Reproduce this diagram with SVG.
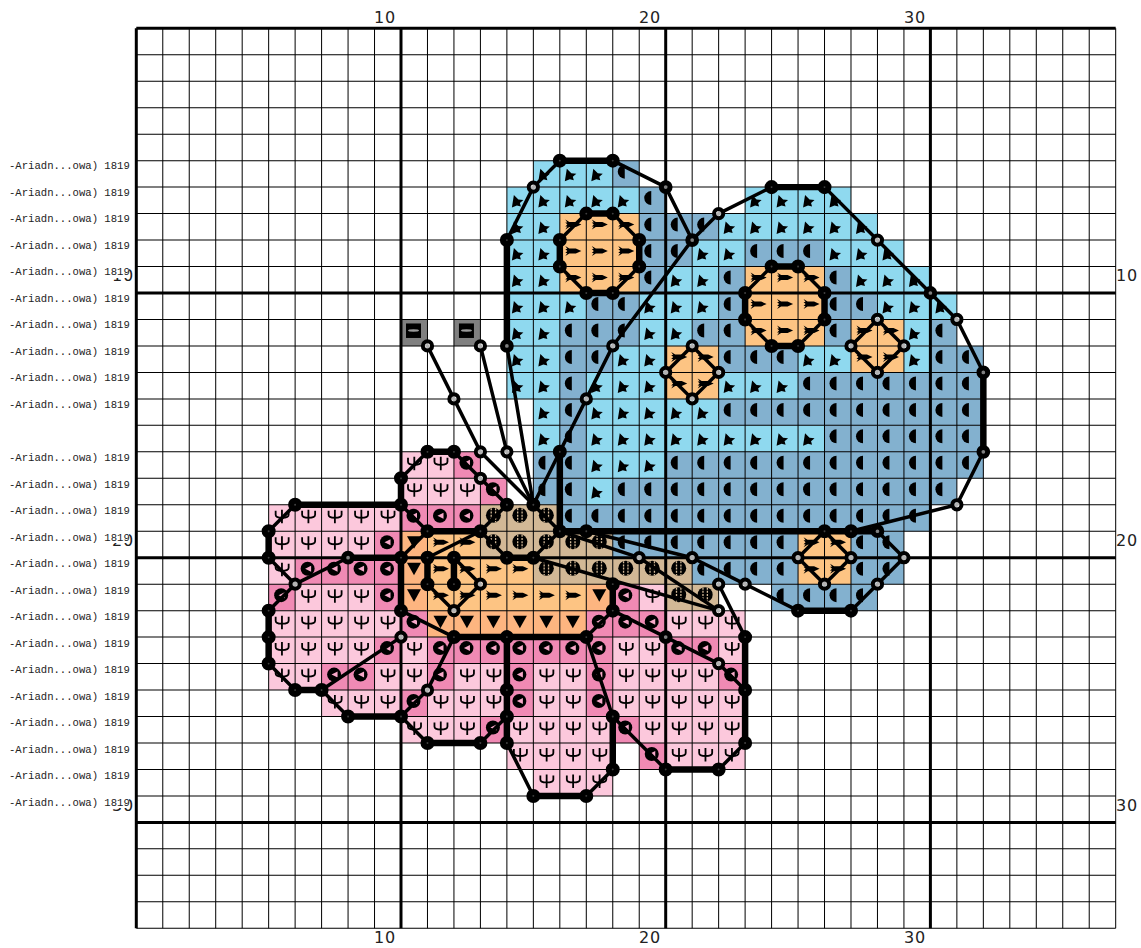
<svg xmlns="http://www.w3.org/2000/svg" width="1141" height="948" viewBox="0 0 1141 948">
<style>
.ax{font-family:"DejaVu Sans",sans-serif;font-size:16px;fill:#222;letter-spacing:.8px}
.lb{font-family:"Liberation Mono",monospace;font-size:10.6px;fill:#222}
.gl{fill:none;stroke:#000;stroke-width:.0378}
.gt{fill:none;stroke:#000;stroke-width:.113}
.th{fill:none;stroke:#000;stroke-width:.132;stroke-linejoin:round;stroke-linecap:round}
.tk{fill:none;stroke:#000;stroke-width:.245;stroke-linecap:round}
</style>
<defs>
<g id="L" transform="scale(.03778)"><rect width="26.47" height="26.47" fill="#8fd9ef"/><path d="M5 20.5L7 8L11.5 12.5L16.5 13L13 16L14 19.5L10 18.5Z"/></g>
<g id="D" transform="scale(.03778)"><rect width="26.47" height="26.47" fill="#83b1cf"/><path d="M12 4A7 7 0 0 0 12 18Z"/></g>
<g id="O" transform="scale(.03778)"><rect width="26.47" height="26.47" fill="#fdc483"/><path d="M5.5 6L9.5 8.5L16 8.5L21.5 11L16 13.5L9.5 13.5L5.5 16L7.5 13L5.5 13L7.5 11L5.5 9L7.5 9Z"/></g>
<g id="T" transform="scale(.03778)"><rect width="26.47" height="26.47" fill="#fdb580"/><path d="M6 5H20L13 17.5Z"/></g>
<g id="B" transform="scale(.03778)"><rect width="26.47" height="26.47" fill="#d2b896"/><circle cx="13" cy="10.5" r="7.5"/><path d="M10.8 3.5V17.5M15.2 3.5V17.5" stroke="#d2b896" stroke-width="1.3" stroke-dasharray="2 1.2"/></g>
<g id="P" transform="scale(.03778)"><rect width="26.47" height="26.47" fill="#fcc8dc"/><path d="M13.3 5V18.5M7 6V10Q7 13 13.3 13Q20 13 20 10V6" fill="none" stroke="#000" stroke-width="1.8"/></g>
<g id="M" transform="scale(.03778)"><rect width="26.47" height="26.47" fill="#f08ab4"/><circle cx="12.5" cy="11" r="7"/><path d="M10 11L16 8V14Z" fill="#f7a8c8"/></g>
<g id="G" transform="scale(.03778)"><rect width="26.47" height="26.47" fill="#808080"/><rect x="5" y="4" width="15" height="14.5"/><ellipse cx="12.5" cy="11" rx="5.5" ry="1.2" fill="#999"/></g>
<circle id="f" r=".15" fill="#fff" fill-opacity=".25" stroke="#000" stroke-width=".23"/>
<circle id="m" r=".165" fill="#fff" fill-opacity=".5" stroke="#000" stroke-width=".19"/>
<circle id="r" r=".175" fill="#fff" fill-opacity=".7" stroke="#000" stroke-width=".15"/>
</defs>
<rect width="1141" height="948" fill="#fff"/>
<g class="ax">
<text x="396" y="23" text-anchor="end">10</text><text x="661" y="23" text-anchor="end">20</text><text x="926" y="23" text-anchor="end">30</text>
<text x="396" y="943" text-anchor="end">10</text><text x="661" y="943" text-anchor="end">20</text><text x="926" y="943" text-anchor="end">30</text>
<text x="134" y="281" text-anchor="end">10</text><text x="134" y="546" text-anchor="end">20</text><text x="134" y="811" text-anchor="end">30</text>
<text x="1116" y="281">10</text><text x="1116" y="546">20</text><text x="1116" y="811">30</text>
</g>
<g fill="#fff"><rect x="100" y="264" width="29" height="14"/><rect x="100" y="529" width="29" height="14"/><rect x="100" y="794" width="29" height="14"/></g>
<g class="lb">
<text x="9" y="169">-Ariadn...owa) 1819</text><text x="9" y="195.5">-Ariadn...owa) 1819</text><text x="9" y="222">-Ariadn...owa) 1819</text><text x="9" y="248.5">-Ariadn...owa) 1819</text><text x="9" y="275">-Ariadn...owa) 1819</text><text x="9" y="301.5">-Ariadn...owa) 1819</text><text x="9" y="328">-Ariadn...owa) 1819</text><text x="9" y="354.5">-Ariadn...owa) 1819</text><text x="9" y="381">-Ariadn...owa) 1819</text><text x="9" y="407.5">-Ariadn...owa) 1819</text>
<text x="9" y="461">-Ariadn...owa) 1819</text><text x="9" y="487.5">-Ariadn...owa) 1819</text><text x="9" y="514">-Ariadn...owa) 1819</text><text x="9" y="540.5">-Ariadn...owa) 1819</text><text x="9" y="567">-Ariadn...owa) 1819</text><text x="9" y="593.5">-Ariadn...owa) 1819</text><text x="9" y="620">-Ariadn...owa) 1819</text><text x="9" y="646.5">-Ariadn...owa) 1819</text><text x="9" y="673">-Ariadn...owa) 1819</text><text x="9" y="699.5">-Ariadn...owa) 1819</text><text x="9" y="726">-Ariadn...owa) 1819</text><text x="9" y="752.5">-Ariadn...owa) 1819</text><text x="9" y="779">-Ariadn...owa) 1819</text><text x="9" y="805.5">-Ariadn...owa) 1819</text>
</g>
<g transform="translate(136.3 28.3) scale(26.47)">
<g id="cells">
<use href="#L" x="15" y="5"/><use href="#L" x="16" y="5"/><use href="#L" x="17" y="5"/><use href="#D" x="18" y="5"/>
<use href="#L" x="14" y="6"/><use href="#L" x="15" y="6"/><use href="#L" x="16" y="6"/><use href="#L" x="17" y="6"/><use href="#L" x="18" y="6"/><use href="#D" x="19" y="6"/><use href="#L" x="23" y="6"/><use href="#L" x="24" y="6"/><use href="#L" x="25" y="6"/><use href="#L" x="26" y="6"/>
<use href="#L" x="14" y="7"/><use href="#L" x="15" y="7"/><use href="#O" x="16" y="7"/><use href="#O" x="17" y="7"/><use href="#O" x="18" y="7"/><use href="#D" x="19" y="7"/><use href="#D" x="20" y="7"/><use href="#D" x="21" y="7"/><use href="#L" x="22" y="7"/><use href="#L" x="23" y="7"/><use href="#L" x="24" y="7"/><use href="#L" x="25" y="7"/><use href="#L" x="26" y="7"/><use href="#L" x="27" y="7"/>
<use href="#L" x="14" y="8"/><use href="#L" x="15" y="8"/><use href="#O" x="16" y="8"/><use href="#O" x="17" y="8"/><use href="#O" x="18" y="8"/><use href="#D" x="19" y="8"/><use href="#D" x="20" y="8"/><use href="#L" x="21" y="8"/><use href="#L" x="22" y="8"/><use href="#D" x="23" y="8"/><use href="#D" x="24" y="8"/><use href="#D" x="25" y="8"/><use href="#L" x="26" y="8"/><use href="#L" x="27" y="8"/><use href="#L" x="28" y="8"/>
<use href="#L" x="14" y="9"/><use href="#L" x="15" y="9"/><use href="#O" x="16" y="9"/><use href="#O" x="17" y="9"/><use href="#O" x="18" y="9"/><use href="#D" x="19" y="9"/><use href="#L" x="20" y="9"/><use href="#L" x="21" y="9"/><use href="#D" x="22" y="9"/><use href="#O" x="23" y="9"/><use href="#O" x="24" y="9"/><use href="#O" x="25" y="9"/><use href="#D" x="26" y="9"/><use href="#L" x="27" y="9"/><use href="#L" x="28" y="9"/><use href="#L" x="29" y="9"/>
<use href="#L" x="14" y="10"/><use href="#L" x="15" y="10"/><use href="#L" x="16" y="10"/><use href="#D" x="17" y="10"/><use href="#D" x="18" y="10"/><use href="#L" x="19" y="10"/><use href="#L" x="20" y="10"/><use href="#L" x="21" y="10"/><use href="#D" x="22" y="10"/><use href="#O" x="23" y="10"/><use href="#O" x="24" y="10"/><use href="#O" x="25" y="10"/><use href="#D" x="26" y="10"/><use href="#D" x="27" y="10"/><use href="#L" x="28" y="10"/><use href="#L" x="29" y="10"/><use href="#L" x="30" y="10"/>
<use href="#G" x="10" y="11"/><use href="#G" x="12" y="11"/><use href="#L" x="14" y="11"/><use href="#L" x="15" y="11"/><use href="#D" x="16" y="11"/><use href="#D" x="17" y="11"/><use href="#D" x="18" y="11"/><use href="#L" x="19" y="11"/><use href="#L" x="20" y="11"/><use href="#D" x="21" y="11"/><use href="#D" x="22" y="11"/><use href="#O" x="23" y="11"/><use href="#O" x="24" y="11"/><use href="#O" x="25" y="11"/><use href="#D" x="26" y="11"/><use href="#O" x="27" y="11"/><use href="#O" x="28" y="11"/><use href="#L" x="29" y="11"/><use href="#D" x="30" y="11"/>
<use href="#L" x="14" y="12"/><use href="#L" x="15" y="12"/><use href="#D" x="16" y="12"/><use href="#D" x="17" y="12"/><use href="#L" x="18" y="12"/><use href="#L" x="19" y="12"/><use href="#O" x="20" y="12"/><use href="#O" x="21" y="12"/><use href="#D" x="22" y="12"/><use href="#D" x="23" y="12"/><use href="#D" x="24" y="12"/><use href="#L" x="25" y="12"/><use href="#L" x="26" y="12"/><use href="#O" x="27" y="12"/><use href="#O" x="28" y="12"/><use href="#L" x="29" y="12"/><use href="#D" x="30" y="12"/><use href="#D" x="31" y="12"/>
<use href="#L" x="14" y="13"/><use href="#L" x="15" y="13"/><use href="#D" x="16" y="13"/><use href="#L" x="17" y="13"/><use href="#L" x="18" y="13"/><use href="#L" x="19" y="13"/><use href="#O" x="20" y="13"/><use href="#O" x="21" y="13"/><use href="#L" x="22" y="13"/><use href="#L" x="23" y="13"/><use href="#L" x="24" y="13"/><use href="#D" x="25" y="13"/><use href="#D" x="26" y="13"/><use href="#D" x="27" y="13"/><use href="#D" x="28" y="13"/><use href="#D" x="29" y="13"/><use href="#D" x="30" y="13"/><use href="#D" x="31" y="13"/>
<use href="#L" x="15" y="14"/><use href="#D" x="16" y="14"/><use href="#L" x="17" y="14"/><use href="#L" x="18" y="14"/><use href="#L" x="19" y="14"/><use href="#L" x="20" y="14"/><use href="#L" x="21" y="14"/><use href="#D" x="22" y="14"/><use href="#D" x="23" y="14"/><use href="#D" x="24" y="14"/><use href="#D" x="25" y="14"/><use href="#D" x="26" y="14"/><use href="#D" x="27" y="14"/><use href="#D" x="28" y="14"/><use href="#D" x="29" y="14"/><use href="#D" x="30" y="14"/><use href="#D" x="31" y="14"/>
<use href="#L" x="15" y="15"/><use href="#D" x="16" y="15"/><use href="#L" x="17" y="15"/><use href="#L" x="18" y="15"/><use href="#L" x="19" y="15"/><use href="#L" x="20" y="15"/><use href="#L" x="21" y="15"/><use href="#L" x="22" y="15"/><use href="#L" x="23" y="15"/><use href="#L" x="24" y="15"/><use href="#L" x="25" y="15"/><use href="#D" x="26" y="15"/><use href="#D" x="27" y="15"/><use href="#D" x="28" y="15"/><use href="#D" x="29" y="15"/><use href="#D" x="30" y="15"/><use href="#D" x="31" y="15"/>
<use href="#P" x="10" y="16"/><use href="#P" x="11" y="16"/><use href="#M" x="12" y="16"/><use href="#D" x="15" y="16"/><use href="#D" x="16" y="16"/><use href="#L" x="17" y="16"/><use href="#L" x="18" y="16"/><use href="#L" x="19" y="16"/><use href="#D" x="20" y="16"/><use href="#D" x="21" y="16"/><use href="#D" x="22" y="16"/><use href="#D" x="23" y="16"/><use href="#D" x="24" y="16"/><use href="#D" x="25" y="16"/><use href="#D" x="26" y="16"/><use href="#D" x="27" y="16"/><use href="#D" x="28" y="16"/><use href="#D" x="29" y="16"/><use href="#D" x="30" y="16"/><use href="#D" x="31" y="16"/>
<use href="#P" x="10" y="17"/><use href="#P" x="11" y="17"/><use href="#P" x="12" y="17"/><use href="#M" x="13" y="17"/><use href="#D" x="15" y="17"/><use href="#D" x="16" y="17"/><use href="#L" x="17" y="17"/><use href="#D" x="18" y="17"/><use href="#D" x="19" y="17"/><use href="#D" x="20" y="17"/><use href="#D" x="21" y="17"/><use href="#D" x="22" y="17"/><use href="#D" x="23" y="17"/><use href="#D" x="24" y="17"/><use href="#D" x="25" y="17"/><use href="#D" x="26" y="17"/><use href="#D" x="27" y="17"/><use href="#D" x="28" y="17"/><use href="#D" x="29" y="17"/><use href="#D" x="30" y="17"/>
<use href="#P" x="5" y="18"/><use href="#P" x="6" y="18"/><use href="#P" x="7" y="18"/><use href="#P" x="8" y="18"/><use href="#P" x="9" y="18"/><use href="#M" x="10" y="18"/><use href="#M" x="11" y="18"/><use href="#M" x="12" y="18"/><use href="#B" x="13" y="18"/><use href="#B" x="14" y="18"/><use href="#B" x="15" y="18"/><use href="#D" x="16" y="18"/><use href="#D" x="17" y="18"/><use href="#D" x="18" y="18"/><use href="#D" x="19" y="18"/><use href="#D" x="20" y="18"/><use href="#D" x="21" y="18"/><use href="#D" x="22" y="18"/><use href="#D" x="23" y="18"/><use href="#D" x="24" y="18"/><use href="#D" x="25" y="18"/><use href="#D" x="26" y="18"/><use href="#D" x="27" y="18"/><use href="#D" x="28" y="18"/><use href="#D" x="29" y="18"/>
<use href="#P" x="5" y="19"/><use href="#P" x="6" y="19"/><use href="#P" x="7" y="19"/><use href="#P" x="8" y="19"/><use href="#M" x="9" y="19"/><use href="#T" x="10" y="19"/><use href="#O" x="11" y="19"/><use href="#O" x="12" y="19"/><use href="#B" x="13" y="19"/><use href="#B" x="14" y="19"/><use href="#B" x="15" y="19"/><use href="#B" x="16" y="19"/><use href="#B" x="17" y="19"/><use href="#D" x="18" y="19"/><use href="#D" x="19" y="19"/><use href="#D" x="20" y="19"/><use href="#D" x="21" y="19"/><use href="#D" x="22" y="19"/><use href="#D" x="23" y="19"/><use href="#D" x="24" y="19"/><use href="#O" x="25" y="19"/><use href="#O" x="26" y="19"/><use href="#D" x="27" y="19"/><use href="#D" x="28" y="19"/>
<use href="#P" x="5" y="20"/><use href="#M" x="6" y="20"/><use href="#M" x="7" y="20"/><use href="#M" x="8" y="20"/><use href="#M" x="9" y="20"/><use href="#T" x="10" y="20"/><use href="#O" x="11" y="20"/><use href="#O" x="12" y="20"/><use href="#O" x="13" y="20"/><use href="#O" x="14" y="20"/><use href="#B" x="15" y="20"/><use href="#B" x="16" y="20"/><use href="#B" x="17" y="20"/><use href="#B" x="18" y="20"/><use href="#B" x="19" y="20"/><use href="#B" x="20" y="20"/><use href="#D" x="21" y="20"/><use href="#D" x="22" y="20"/><use href="#D" x="23" y="20"/><use href="#D" x="24" y="20"/><use href="#O" x="25" y="20"/><use href="#O" x="26" y="20"/><use href="#D" x="27" y="20"/><use href="#D" x="28" y="20"/>
<use href="#M" x="5" y="21"/><use href="#P" x="6" y="21"/><use href="#P" x="7" y="21"/><use href="#P" x="8" y="21"/><use href="#M" x="9" y="21"/><use href="#T" x="10" y="21"/><use href="#O" x="11" y="21"/><use href="#O" x="12" y="21"/><use href="#O" x="13" y="21"/><use href="#O" x="14" y="21"/><use href="#O" x="15" y="21"/><use href="#O" x="16" y="21"/><use href="#T" x="17" y="21"/><use href="#M" x="18" y="21"/><use href="#P" x="19" y="21"/><use href="#B" x="20" y="21"/><use href="#B" x="21" y="21"/><use href="#D" x="24" y="21"/><use href="#D" x="25" y="21"/><use href="#D" x="26" y="21"/><use href="#D" x="27" y="21"/>
<use href="#P" x="5" y="22"/><use href="#P" x="6" y="22"/><use href="#P" x="7" y="22"/><use href="#P" x="8" y="22"/><use href="#P" x="9" y="22"/><use href="#M" x="10" y="22"/><use href="#T" x="11" y="22"/><use href="#T" x="12" y="22"/><use href="#T" x="13" y="22"/><use href="#T" x="14" y="22"/><use href="#T" x="15" y="22"/><use href="#T" x="16" y="22"/><use href="#M" x="17" y="22"/><use href="#M" x="18" y="22"/><use href="#M" x="19" y="22"/><use href="#P" x="20" y="22"/><use href="#P" x="21" y="22"/><use href="#P" x="22" y="22"/>
<use href="#P" x="5" y="23"/><use href="#P" x="6" y="23"/><use href="#P" x="7" y="23"/><use href="#P" x="8" y="23"/><use href="#M" x="9" y="23"/><use href="#P" x="10" y="23"/><use href="#M" x="11" y="23"/><use href="#M" x="12" y="23"/><use href="#M" x="13" y="23"/><use href="#M" x="14" y="23"/><use href="#M" x="15" y="23"/><use href="#M" x="16" y="23"/><use href="#M" x="17" y="23"/><use href="#P" x="18" y="23"/><use href="#P" x="19" y="23"/><use href="#M" x="20" y="23"/><use href="#M" x="21" y="23"/><use href="#P" x="22" y="23"/>
<use href="#P" x="5" y="24"/><use href="#P" x="6" y="24"/><use href="#M" x="7" y="24"/><use href="#M" x="8" y="24"/><use href="#P" x="9" y="24"/><use href="#P" x="10" y="24"/><use href="#M" x="11" y="24"/><use href="#P" x="12" y="24"/><use href="#P" x="13" y="24"/><use href="#M" x="14" y="24"/><use href="#P" x="15" y="24"/><use href="#P" x="16" y="24"/><use href="#M" x="17" y="24"/><use href="#P" x="18" y="24"/><use href="#P" x="19" y="24"/><use href="#P" x="20" y="24"/><use href="#P" x="21" y="24"/><use href="#M" x="22" y="24"/>
<use href="#P" x="7" y="25"/><use href="#P" x="8" y="25"/><use href="#P" x="9" y="25"/><use href="#M" x="10" y="25"/><use href="#P" x="11" y="25"/><use href="#P" x="12" y="25"/><use href="#P" x="13" y="25"/><use href="#M" x="14" y="25"/><use href="#P" x="15" y="25"/><use href="#P" x="16" y="25"/><use href="#M" x="17" y="25"/><use href="#P" x="18" y="25"/><use href="#P" x="19" y="25"/><use href="#P" x="20" y="25"/><use href="#P" x="21" y="25"/><use href="#P" x="22" y="25"/>
<use href="#P" x="10" y="26"/><use href="#P" x="11" y="26"/><use href="#P" x="12" y="26"/><use href="#M" x="13" y="26"/><use href="#P" x="14" y="26"/><use href="#P" x="15" y="26"/><use href="#P" x="16" y="26"/><use href="#P" x="17" y="26"/><use href="#M" x="18" y="26"/><use href="#P" x="19" y="26"/><use href="#P" x="20" y="26"/><use href="#P" x="21" y="26"/><use href="#P" x="22" y="26"/>
<use href="#P" x="14" y="27"/><use href="#P" x="15" y="27"/><use href="#P" x="16" y="27"/><use href="#P" x="17" y="27"/><use href="#M" x="19" y="27"/><use href="#P" x="20" y="27"/><use href="#P" x="21" y="27"/><use href="#P" x="22" y="27"/>
<use href="#P" x="15" y="28"/><use href="#P" x="16" y="28"/><use href="#P" x="17" y="28"/>
</g>
<g id="grid">
<path class="gl" d="M1 0V34M2 0V34M3 0V34M4 0V34M5 0V34M6 0V34M7 0V34M8 0V34M9 0V34M11 0V34M12 0V34M13 0V34M14 0V34M15 0V34M16 0V34M17 0V34M18 0V34M19 0V34M21 0V34M22 0V34M23 0V34M24 0V34M25 0V34M26 0V34M27 0V34M28 0V34M29 0V34M31 0V34M32 0V34M33 0V34M34 0V34M35 0V34M36 0V34M37 0V34"/>
<path class="gl" d="M0 1H37M0 2H37M0 3H37M0 4H37M0 5H37M0 6H37M0 7H37M0 8H37M0 9H37M0 11H37M0 12H37M0 13H37M0 14H37M0 15H37M0 16H37M0 17H37M0 18H37M0 19H37M0 21H37M0 22H37M0 23H37M0 24H37M0 25H37M0 26H37M0 27H37M0 28H37M0 29H37M0 31H37M0 32H37M0 33H37M0 34H37"/>
<path class="gt" d="M0 0V34M10 0V34M20 0V34M30 0V34M0 0H37M0 10H37M0 20H37M0 30H37"/>
</g>
<g id="connectors">
<path class="th" d="M16 5L15 6L14 8"/>
<path class="th" d="M18 5L20 6L21 8L22 7L24 6"/>
<path class="th" d="M26 6L28 8L30 10L31 11L32 13"/>
<path class="th" d="M32 16L31 18L27 19"/>
<path class="th" d="M28 19L29 20L28 21L27 22"/>
<path class="th" d="M25 22L23 21L21 20L17 19"/>
<path class="th" d="M16 19L19 20L22 22L15 20"/>
<path class="th" d="M22 21L23 23"/>
<path class="th" d="M23 25L22 24L20 23L18 22L17 23L18 26L20 28"/>
<path class="th" d="M23 27L22 28"/>
<path class="th" d="M18 28L17 29"/>
<path class="th" d="M15 29L14 27"/>
<path class="th" d="M14 26L13 27"/>
<path class="th" d="M11 27L10 26L11 25L12 23L10 22"/>
<path class="th" d="M8 26L7 25L10 23"/>
<path class="th" d="M6 25L5 24"/>
<path class="th" d="M5 22L6 21L5 20"/>
<path class="th" d="M6 21L8 20"/>
<path class="th" d="M5 19L6 18"/>
<path class="th" d="M10 18L11 19L10 20"/>
<path class="th" d="M10 17L11 16"/>
<path class="th" d="M12 16L13 17L14 18L13 19L14 20"/>
<path class="th" d="M13 19L11 20"/>
<path class="th" d="M11 21L12 22L13 21L12 20"/>
<path class="th" d="M15 20L16 19L15 18L16 16L17 14L18 12L21 8"/>
<path class="th" d="M11 12L12 14L13 16L15 18"/>
<path class="th" d="M13 12L14 16L15 18"/>
<path class="th" d="M14 12L15 18"/>
<path class="th" d="M18 7L19 8M19 9L18 10M17 10L16 9M16 8L17 7"/>
<path class="th" d="M25 9L26 10M26 11L25 12M24 12L23 11M23 10L24 9"/>
<path class="th" d="M21 12L22 13L21 14L20 13Z"/>
<path class="th" d="M28 11L29 12L28 13L27 12Z"/>
<path class="th" d="M26 19L27 20L26 21L25 20Z"/>
<path class="tk" d="M16 5H18M24 6H26M14 8V12M32 13V16M17 7H18M19 8V9M17 10H18M16 8V9M24 9H25M26 10V11M24 12H25M23 10V11M16 16V19M16 19H28M25 22H27M11 16H12M10 17V18M6 18H10M5 19V20M8 20H10M10 20V22M5 22V24M6 25H7M8 26H10M11 19H13M14 20H15M11 20V21M12 20V21M12 23H17M14 23V27M18 21V22M23 23V27M20 28H22M18 26V28M15 29H17M11 27H13"/>
</g>
<g id="nodes">
<g id="n16-5"><use href="#f" x="16" y="5"/></g><g id="n18-5"><use href="#f" x="18" y="5"/></g><g id="n24-6"><use href="#f" x="24" y="6"/></g><g id="n26-6"><use href="#f" x="26" y="6"/></g><g id="n14-8"><use href="#f" x="14" y="8"/></g>
<g id="n17-7"><use href="#f" x="17" y="7"/></g><g id="n18-7"><use href="#f" x="18" y="7"/></g><g id="n19-8"><use href="#f" x="19" y="8"/></g><g id="n19-9"><use href="#f" x="19" y="9"/></g><g id="n18-10"><use href="#f" x="18" y="10"/></g><g id="n17-10"><use href="#f" x="17" y="10"/></g><g id="n16-9"><use href="#f" x="16" y="9"/></g><g id="n16-8"><use href="#f" x="16" y="8"/></g>
<g id="n24-9"><use href="#f" x="24" y="9"/></g><g id="n25-9"><use href="#f" x="25" y="9"/></g><g id="n26-10"><use href="#f" x="26" y="10"/></g><g id="n26-11"><use href="#f" x="26" y="11"/></g><g id="n25-12"><use href="#f" x="25" y="12"/></g><g id="n24-12"><use href="#f" x="24" y="12"/></g><g id="n23-11"><use href="#f" x="23" y="11"/></g><g id="n23-10"><use href="#f" x="23" y="10"/></g>
<g id="n16-16"><use href="#f" x="16" y="16"/></g><g id="n16-19"><use href="#f" x="16" y="19"/></g><g id="n17-19"><use href="#f" x="17" y="19"/></g><g id="n26-19"><use href="#f" x="26" y="19"/></g><g id="n27-19"><use href="#f" x="27" y="19"/></g><g id="n25-22"><use href="#f" x="25" y="22"/></g><g id="n27-22"><use href="#f" x="27" y="22"/></g>
<g id="n11-16"><use href="#f" x="11" y="16"/></g><g id="n12-16"><use href="#f" x="12" y="16"/></g><g id="n10-17"><use href="#f" x="10" y="17"/></g><g id="n10-18"><use href="#f" x="10" y="18"/></g><g id="n6-18"><use href="#f" x="6" y="18"/></g><g id="n5-19"><use href="#f" x="5" y="19"/></g><g id="n5-20"><use href="#f" x="5" y="20"/></g><g id="n10-20"><use href="#f" x="10" y="20"/></g><g id="n10-22"><use href="#f" x="10" y="22"/></g>
<g id="n5-22"><use href="#f" x="5" y="22"/></g><g id="n5-23"><use href="#f" x="5" y="23"/></g><g id="n5-24"><use href="#f" x="5" y="24"/></g><g id="n6-25"><use href="#f" x="6" y="25"/></g><g id="n7-25"><use href="#f" x="7" y="25"/></g><g id="n8-26"><use href="#f" x="8" y="26"/></g><g id="n10-26"><use href="#f" x="10" y="26"/></g>
<g id="n11-19"><use href="#f" x="11" y="19"/></g><g id="n13-19"><use href="#f" x="13" y="19"/></g><g id="n14-20"><use href="#f" x="14" y="20"/></g><g id="n15-20"><use href="#f" x="15" y="20"/></g><g id="n14-18"><use href="#f" x="14" y="18"/></g><g id="n15-18"><use href="#f" x="15" y="18"/></g><g id="n11-20"><use href="#f" x="11" y="20"/></g><g id="n11-21"><use href="#f" x="11" y="21"/></g><g id="n12-20"><use href="#f" x="12" y="20"/></g><g id="n12-21"><use href="#f" x="12" y="21"/></g>
<g id="n12-23"><use href="#f" x="12" y="23"/></g><g id="n14-23"><use href="#f" x="14" y="23"/></g><g id="n17-23"><use href="#f" x="17" y="23"/></g><g id="n14-25"><use href="#f" x="14" y="25"/></g><g id="n14-26"><use href="#f" x="14" y="26"/></g><g id="n14-27"><use href="#f" x="14" y="27"/></g><g id="n18-21"><use href="#f" x="18" y="21"/></g><g id="n18-22"><use href="#f" x="18" y="22"/></g>
<g id="n23-23"><use href="#f" x="23" y="23"/></g><g id="n23-25"><use href="#f" x="23" y="25"/></g><g id="n23-27"><use href="#f" x="23" y="27"/></g><g id="n22-28"><use href="#f" x="22" y="28"/></g><g id="n20-28"><use href="#f" x="20" y="28"/></g><g id="n18-26"><use href="#f" x="18" y="26"/></g><g id="n18-28"><use href="#f" x="18" y="28"/></g><g id="n17-29"><use href="#f" x="17" y="29"/></g><g id="n15-29"><use href="#f" x="15" y="29"/></g><g id="n13-27"><use href="#f" x="13" y="27"/></g><g id="n11-27"><use href="#f" x="11" y="27"/></g>
<g id="n20-6"><use href="#m" x="20" y="6"/></g><g id="n21-8"><use href="#m" x="21" y="8"/></g><g id="n30-10"><use href="#m" x="30" y="10"/></g><g id="n32-13"><use href="#m" x="32" y="13"/></g><g id="n32-16"><use href="#m" x="32" y="16"/></g><g id="n28-19"><use href="#m" x="28" y="19"/></g><g id="n8-20"><use href="#m" x="8" y="20"/></g><g id="n20-23"><use href="#m" x="20" y="23"/></g><g id="n14-12"><use href="#m" x="14" y="12"/></g>
<g id="n15-6"><use href="#r" x="15" y="6"/></g><g id="n22-7"><use href="#r" x="22" y="7"/></g><g id="n28-8"><use href="#r" x="28" y="8"/></g><g id="n31-11"><use href="#r" x="31" y="11"/></g><g id="n12-14"><use href="#r" x="12" y="14"/></g><g id="n13-17"><use href="#r" x="13" y="17"/></g><g id="n13-16"><use href="#r" x="13" y="16"/></g><g id="n14-16"><use href="#r" x="14" y="16"/></g><g id="n11-12"><use href="#r" x="11" y="12"/></g><g id="n13-12"><use href="#r" x="13" y="12"/></g><g id="n17-14"><use href="#r" x="17" y="14"/></g><g id="n18-12"><use href="#r" x="18" y="12"/></g>
<g id="n21-12"><use href="#r" x="21" y="12"/></g><g id="n22-13"><use href="#r" x="22" y="13"/></g><g id="n21-14"><use href="#r" x="21" y="14"/></g><g id="n20-13"><use href="#r" x="20" y="13"/></g><g id="n28-11"><use href="#r" x="28" y="11"/></g><g id="n29-12"><use href="#r" x="29" y="12"/></g><g id="n28-13"><use href="#r" x="28" y="13"/></g><g id="n27-12"><use href="#r" x="27" y="12"/></g>
<g id="n25-20"><use href="#r" x="25" y="20"/></g><g id="n27-20"><use href="#r" x="27" y="20"/></g><g id="n26-21"><use href="#r" x="26" y="21"/></g><g id="n21-20"><use href="#r" x="21" y="20"/></g><g id="n23-21"><use href="#r" x="23" y="21"/></g><g id="n19-20"><use href="#r" x="19" y="20"/></g><g id="n22-21"><use href="#r" x="22" y="21"/></g><g id="n22-22"><use href="#r" x="22" y="22"/></g>
<g id="n13-21"><use href="#r" x="13" y="21"/></g><g id="n12-22"><use href="#r" x="12" y="22"/></g><g id="n10-23"><use href="#r" x="10" y="23"/></g><g id="n6-21"><use href="#r" x="6" y="21"/></g><g id="n11-25"><use href="#r" x="11" y="25"/></g><g id="n22-24"><use href="#r" x="22" y="24"/></g><g id="n31-18"><use href="#r" x="31" y="18"/></g><g id="n29-20"><use href="#r" x="29" y="20"/></g><g id="n28-21"><use href="#r" x="28" y="21"/></g>
</g>
</g>
</svg>
